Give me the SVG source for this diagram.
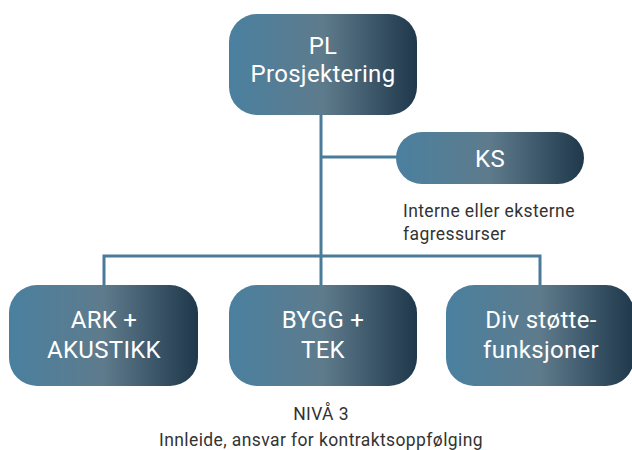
<svg xmlns="http://www.w3.org/2000/svg" width="632" height="450" viewBox="0 0 632 450">
  <defs>
    <linearGradient id="boxFill" x1="0" y1="0" x2="1" y2="0">
      <stop offset="0" stop-color="#4a809f"/>
      <stop offset="0.5" stop-color="#5e7b8c"/>
      <stop offset="1" stop-color="#1f384b"/>
    </linearGradient>
    <style>
      .box { fill: url(#boxFill); }
      .lbl { font-family: Roboto, "Liberation Sans", sans-serif; font-size: 24px; fill: #ffffff; text-anchor: middle; letter-spacing: 0.3px; }
      .note { font-family: Roboto, "Liberation Sans", sans-serif; font-size: 17.5px; fill: #333333; letter-spacing: 0.4px; }
      .wire { fill: none; stroke: #4a7b98; stroke-width: 3; }
    </style>
  </defs>
  <rect width="632" height="450" fill="#ffffff"/>

  <!-- connectors -->
  <g id="connectors">
    <path class="wire" d="M321 114 V285"/>
    <path class="wire" d="M321 157 H398"/>
    <path class="wire" d="M104 285 V256 H540 V285"/>
  </g>

  <g id="pl">
    <rect class="box" x="229" y="14" width="188" height="101" rx="28"/>
    <text class="lbl" x="323" y="54">PL</text>
    <text class="lbl" x="323" y="82">Prosjektering</text>
  </g>

  <g id="ks">
    <rect class="box" x="396" y="132" width="188" height="52" rx="26"/>
    <text class="lbl" x="490" y="167">KS</text>
    <text class="note" x="403" y="217">Interne eller eksterne</text>
    <text class="note" x="403" y="240">fagressurser</text>
  </g>

  <g id="ark">
    <rect class="box" x="9" y="285" width="189" height="101" rx="28"/>
    <text class="lbl" x="104" y="328">ARK +</text>
    <text class="lbl" x="104" y="358">AKUSTIKK</text>
  </g>

  <g id="bygg">
    <rect class="box" x="229" y="285" width="188" height="101" rx="28"/>
    <text class="lbl" x="323" y="328">BYGG +</text>
    <text class="lbl" x="323" y="358">TEK</text>
  </g>

  <g id="div">
    <rect class="box" x="446" y="285" width="188" height="101" rx="28"/>
    <text class="lbl" x="541" y="328">Div støtte-</text>
    <text class="lbl" x="541" y="358">funksjoner</text>
  </g>

  <g id="footer">
    <text class="note" x="321" y="420" text-anchor="middle">NIVÅ 3</text>
    <text class="note" x="321" y="446" text-anchor="middle">Innleide, ansvar for kontraktsoppfølging</text>
  </g>
</svg>
